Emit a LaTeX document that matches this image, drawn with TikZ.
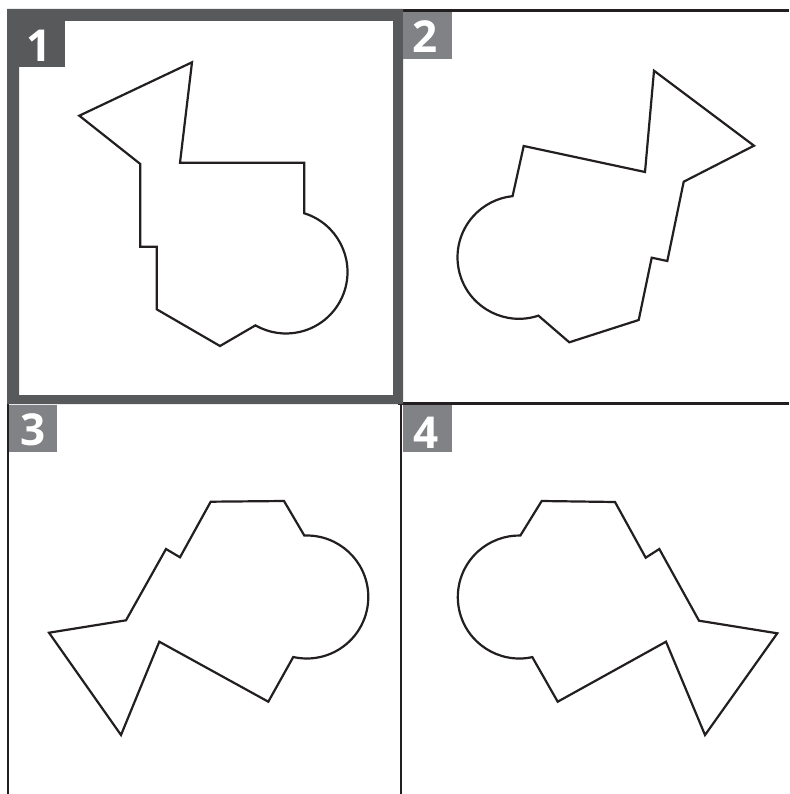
\documentclass[tikz,border=0pt]{standalone}
\usepackage{fontspec}
\setmainfont{Open Sans}
\usetikzlibrary{calc}
\definecolor{ink}{HTML}{231F20}
\definecolor{darkframe}{HTML}{58595B}
\definecolor{lightlab}{HTML}{808285}
\tikzset{
  outline/.style={draw=ink, line width=2.2pt, line join=miter},
  gridline/.style={draw=ink, line width=2.6pt},
  numlabel/.style={text=white, font=\fontsize{44}{44}\selectfont\bfseries, inner sep=0pt, anchor=center},
}
\begin{document}
\begin{tikzpicture}[x=1pt,y=-1pt]
\useasboundingbox (0,0) rectangle (789,794);
\fill[white] (0,0) rectangle (789,794);
% grid lines
\draw[gridline] (403,10.5) -- (789,10.5);
\draw[gridline] (398,403.5) -- (789,403.5);
\draw[gridline] (401,403) -- (401,794);
\draw[gridline] (8,404) -- (8,794);
% highlighted frame of panel 1
\fill[darkframe, even odd rule] (7,9) rectangle (403,404) (19,21) rectangle (393,395);
% label boxes
\fill[darkframe] (19,21) rectangle (65,67);
\fill[lightlab] (403,12) rectangle (452,59);
\fill[lightlab] (9,405) rectangle (57,452);
\fill[lightlab] (402.5,405) rectangle (452,452);
\node[numlabel] (n1) at (39.5,46) {1};
\node[numlabel] (n2) at (425.3,37) {2};
\node[numlabel] (n3) at (32.7,430) {3};
\node[numlabel] (n4) at (426.3,432.8) {4};
% shape 1
\draw[outline] (79.3,115.7) -- (192,62.3) -- (180,162.7) -- (304.3,162.7)
  -- ($(286,272)+(-72.7:61.5)$) arc[start angle=-72.7, end angle=119.8, radius=61.5]
  -- (220,346) -- (156.7,309.3) -- (156.7,246.7) -- (140.3,246.7) -- (140.3,164) -- cycle;
% shape 2
\draw[outline] (654,70.7) -- (754,145.7) -- (683.7,181.7) -- (667.3,261) -- (651.7,257.7)
  -- (638.7,320) -- (569.3,342.3)
  -- ($(519,257.3)+(71.6:61.5)$) arc[start angle=71.6, end angle=264, radius=61.5]
  -- (523.7,146) -- (645,172) -- cycle;
% shape 3
\draw[outline] (210.7,501.7) -- (284,501)
  -- ($(306.8,597)+(-92.3:61.5)$) arc[start angle=-92.3, end angle=102.7, radius=61.5]
  -- (268.3,701.7) -- (159.3,641.7) -- (121,735) -- (49,632.7) -- (126,620.3)
  -- (166,549) -- (180,557.3) -- cycle;
% shape 4
\draw[outline] (541.7,501) -- (615,502) -- (645.7,557.7) -- (659.3,549) -- (699,620.7)
  -- (777.3,633.3) -- (705,735) -- (666,641.7) -- (557.7,701.7)
  -- ($(519.3,597)+(77.8:61.5)$) arc[start angle=77.8, end angle=271, radius=61.5]
  -- cycle;
\end{tikzpicture}
\end{document}
